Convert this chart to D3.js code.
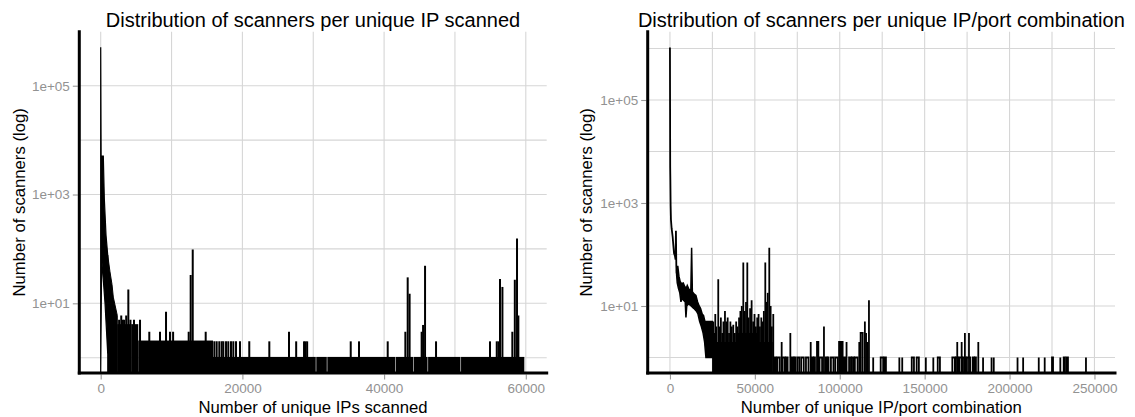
<!DOCTYPE html>
<html>
<head>
<meta charset="utf-8">
<script src="https://cdn.jsdelivr.net/npm/d3@7"></script>
<style>
  body { margin: 0; background: #fff; }
  svg { display: block; font-family: "Liberation Sans", Arial, sans-serif; }
</style>
</head>
<body>
<div class="chart"></div>
<script>
var yTicks = [1e1, 1e3, 1e5];

// left panel: scanners per unique IP scanned
var ipXTicks = [0, 20000, 40000, 60000];
var ipXMinor = [10000, 30000, 50000];
var ipYMinor = [1e0, 1e2, 1e4];
// upper edge of the steep head, then its lower edge back to x = 0
var ipHeadTop = [[0, 510000], [60, 5100], [370, 5100], [510, 850], [750, 180], [990, 77]];
var ipHeadLow = [[990, 1.2], [610, 10], [140, 67], [0, 0]];
// dense part: counts swing between 0 and this edge
var ipTail = [[990, 77], [1310, 38], [1600, 22], [1780, 13], [2020, 9.3], [2340, 6]];
var ipBands = [
  [2340, 4380, 4], [4380, 5300, 4], [5300, 15850, 2],
  [15850, 30350, 1], [30430, 31910, 1], [31990, 41600, 1], [41680, 44080, 1],
  [44160, 46130, 1], [46210, 50780, 1], [50860, 59790, 1]
];
var ipSpikes = [
  [2600, 5], [2900, 6], [3100, 5], [3300, 5], [3600, 6], [3900, 18], [4200, 5], [4700, 5],
  [5000, 3], [5550, 5], [6860, 3], [8370, 3], [9220, 7],
  [9780, 3], [10220, 3], [12420, 3], [12700, 33], [12990, 98], [14820, 3],
  [16040, 2], [16370, 2], [16740, 2], [17080, 2], [17310, 2], [17690, 2], [18010, 2],
  [18390, 2], [18720, 2], [19100, 2], [19660, 2], [20970, 2], [23800, 2], [26580, 3],
  [27590, 2], [28700, 2], [28900, 2], [29140, 2], [35290, 2], [36460, 2], [40510, 2],
  [43000, 3], [43330, 30], [43600, 15], [45300, 3], [45500, 4], [45780, 49], [47330, 2],
  [54950, 2], [55900, 2], [56150, 2], [56360, 28], [56700, 20],
  [58100, 3], [58450, 27], [58760, 156], [58950, 6]
];

// right panel: scanners per unique IP/port combination
var portXTicks = [0, 50000, 100000, 150000, 200000, 250000];
var portXMinor = [25000, 75000, 125000, 175000, 225000];
var portYMinor = [1e0, 1e2, 1e4, 1e6];
var portHead = [
  [0, 1050000], [150, 5000], [250, 2800], [400, 900], [600, 470], [1000, 320],
  [1600, 220], [2000, 150], [2400, 106], [2900, 95], [3300, 80], [3530, 290],
  [3750, 60], [3930, 43]
];
var portBandTop = [
  [3930, 50], [4600, 60], [5300, 38], [6000, 30], [6800, 27], [7850, 28], [8700, 24],
  [9600, 22], [10200, 25], [11200, 21], [12300, 20], [12770, 135], [13200, 19],
  [14300, 17], [15300, 16], [16300, 12], [17200, 10], [18000, 9], [19000, 7],
  [19800, 6.5], [20600, 5], [22000, 5], [24900, 5]
];
var portBandLow = [
  [24900, 1], [21200, 1], [20400, 2], [19500, 3], [18500, 4], [17500, 5], [16500, 7],
  [15500, 8], [14000, 9], [12500, 10], [11000, 11], [9900, 10], [9420, 6], [9000, 12],
  [8000, 13], [7000, 14], [6480, 12], [5800, 18], [5000, 22], [4300, 28], [3930, 40]
];
var portBands = [[24900, 40000, 2], [40000, 52000, 3], [52000, 60500, 2]];
var portSpikes = [
  [25500, 5], [26200, 3], [26700, 7], [27300, 4], [28450, 33], [29200, 4], [30000, 6],
  [30800, 3], [31500, 5], [32400, 8], [33200, 5], [34000, 6], [34800, 3], [35600, 5],
  [36400, 4], [37300, 4.3], [38200, 3], [39000, 5], [39800, 4], [40700, 6], [41500, 8],
  [42300, 10], [43200, 70], [44000, 8], [44800, 12], [45560, 70], [46300, 6], [47200, 9],
  [48100, 13], [49000, 5], [49800, 7], [50600, 4], [51400, 6], [52200, 7], [53000, 4],
  [53800, 6], [54600, 5], [55300, 8], [56150, 70], [56900, 12], [57600, 18], [58500, 135],
  [59300, 10], [60000, 4], [60850, 7]
];
// [from, to, count]: the line sits at count between from and to, 0 either side
var portRuns = [
  [61500, 62500, 1], [63300, 64700, 1], [65800, 65800, 2], [66300, 67600, 1],
  [68300, 69300, 1], [70900, 70900, 3], [71800, 72800, 1], [73300, 73900, 1],
  [75000, 76200, 1], [77300, 78800, 1], [80100, 81600, 1], [82900, 82900, 2],
  [83600, 84400, 1], [84900, 85400, 1], [86600, 87400, 2], [88100, 89600, 1],
  [90700, 90700, 4], [91600, 92300, 1], [92900, 93400, 1], [94800, 96300, 1],
  [97300, 98800, 1], [99600, 100500, 2], [101000, 101700, 2], [102400, 103300, 1],
  [104000, 104000, 2], [105500, 106600, 1], [107200, 108300, 1], [108900, 110500, 1],
  [111500, 111500, 2], [112300, 113500, 3], [114800, 114800, 5], [115500, 115500, 3],
  [116200, 116200, 2], [117200, 117200, 13], [119700, 119700, 1], [124100, 125600, 1],
  [126300, 127200, 1], [135100, 135100, 1], [136800, 136800, 1], [142400, 143700, 1],
  [145300, 146600, 1], [150700, 150700, 1], [155100, 155100, 1], [157700, 159000, 1],
  [166300, 167800, 1], [168400, 169800, 1], [170500, 172000, 1], [172600, 174200, 1],
  [174900, 176800, 1], [178300, 179000, 1], [179600, 180200, 1], [169200, 169200, 2],
  [171800, 171800, 2], [173700, 173700, 3], [176100, 176100, 3], [181600, 181600, 2],
  [184400, 184400, 1], [189400, 189400, 1], [190700, 190700, 1], [204700, 204700, 1],
  [208000, 208000, 1], [217200, 217200, 1], [220700, 220700, 1], [225000, 225600, 1],
  [229900, 229900, 1], [231900, 232600, 1], [233500, 234400, 1], [245000, 245000, 1]
];

var svg = d3
  .select(".chart")
  .append("svg")
  .attr("width", 1135)
  .attr("height", 417);

var xIp = d3.scaleLinear().domain([-3020, 62950]).range([79.3, 546.7]);
var yIp = d3.scaleLog().domain([Math.pow(10, -0.281), Math.pow(10, 5.993)]).range([373, 31.7]);
var xPort = d3.scaleLinear().domain([-13100, 262100]).range([647.7, 1115]);
var yPort = d3.scaleLog().domain([Math.pow(10, -0.301), Math.pow(10, 6.326)]).range([373, 31.7]);

function logLabel(v) {
  var e = Math.round(Math.log10(v));
  return "1e+" + (e < 10 ? "0" : "") + e;
}

// zero counts are drawn on the panel edge, as ggplot does with -Inf
function yOf(y, v) {
  return v > 0 ? y(v) : y.range()[0];
}

function frame(p) {
  var x = p.x, y = p.y;
  var left = x.range()[0], right = x.range()[1];
  var bottom = y.range()[0], top = y.range()[1];
  var g = svg.append("g");

  g.selectAll(".gx")
    .data(p.xTicks.concat(p.xMinor))
    .enter()
    .append("line")
    .attr("x1", d => x(d)).attr("x2", d => x(d))
    .attr("y1", top).attr("y2", bottom)
    .attr("stroke", "#d6d6d6").attr("stroke-width", 1.1);

  g.selectAll(".gy")
    .data(yTicks.concat(p.yMinor))
    .enter()
    .append("line")
    .attr("x1", left).attr("x2", right)
    .attr("y1", d => y(d)).attr("y2", d => y(d))
    .attr("stroke", "#d6d6d6").attr("stroke-width", 1.1);

  var xAxis = d3.axisBottom(x).tickValues(p.xTicks).tickFormat(d3.format("d")).tickSize(5).tickPadding(4);
  var yAxis = d3.axisLeft(y).tickValues(yTicks).tickFormat(logLabel).tickSize(p.yTick).tickPadding(3);

  g.append("g").attr("transform", `translate(0, ${bottom + 1.5})`).call(xAxis);
  g.append("g").attr("transform", `translate(${left - 1.5}, 0)`).call(yAxis);
  g.selectAll(".domain").remove();
  g.selectAll(".tick line").attr("stroke", "#999").attr("stroke-width", 1.1);
  g.selectAll(".tick text")
    .attr("fill", "#929292")
    .style("font-size", "13.5px")
    .style("font-family", "'Liberation Sans', Arial, sans-serif");

  var clipId = "clip" + p.id;
  svg.append("clipPath").attr("id", clipId)
    .append("rect")
    .attr("x", left).attr("y", top)
    .attr("width", right - left).attr("height", bottom - top);
  var marks = svg.append("g").attr("clip-path", `url(#${clipId})`);

  svg.append("line")
    .attr("x1", left).attr("x2", left).attr("y1", top).attr("y2", bottom)
    .attr("stroke", "#000").attr("stroke-width", 3).attr("stroke-linecap", "square");
  svg.append("line")
    .attr("x1", left).attr("x2", right).attr("y1", bottom).attr("y2", bottom)
    .attr("stroke", "#000").attr("stroke-width", 3).attr("stroke-linecap", "square");

  svg.append("text")
    .attr("x", (left + right) / 2).attr("y", 26.5)
    .attr("text-anchor", "middle")
    .style("font-size", "20px")
    .text(p.title);
  svg.append("text")
    .attr("x", (left + right) / 2).attr("y", 412.7)
    .attr("text-anchor", "middle")
    .style("font-size", "16.7px")
    .text(p.xTitle);
  svg.append("text")
    .attr("transform", `translate(${p.yTitleX}, ${(top + bottom) / 2}) rotate(-90)`)
    .attr("text-anchor", "middle")
    .style("font-size", "16.7px")
    .text("Number of scanners (log)");

  return marks;
}

// ---- left panel ----
var ipMarks = frame({
  id: "ip", x: xIp, y: yIp, xTicks: ipXTicks, xMinor: ipXMinor, yMinor: ipYMinor, yTick: 5,
  title: "Distribution of scanners per unique IP scanned",
  xTitle: "Number of unique IPs scanned", yTitleX: 25
});

var ipLine = d3.line().x(d => xIp(d[0])).y(d => yOf(yIp, d[1]));

ipMarks.append("path")
  .attr("d", ipLine(ipHeadTop.concat(ipHeadLow)) + "Z")
  .attr("fill", "#000").attr("stroke", "#000").attr("stroke-width", 1.2);

ipMarks.append("path")
  .attr("d", d3.area().x(d => xIp(d[0])).y0(yIp.range()[0]).y1(d => yIp(d[1]))(ipTail))
  .attr("fill", "#000").attr("stroke", "#000").attr("stroke-width", 1);

ipMarks.selectAll(".band")
  .data(ipBands)
  .enter()
  .append("rect")
  .attr("x", d => xIp(d[0]))
  .attr("width", d => xIp(d[1]) - xIp(d[0]))
  .attr("y", d => yIp(d[2]) - 0.8)
  .attr("height", d => yIp.range()[0] - yIp(d[2]) + 0.8)
  .attr("fill", "#000");

ipMarks.selectAll(".spike")
  .data(ipSpikes)
  .enter()
  .append("line")
  .attr("x1", d => xIp(d[0])).attr("x2", d => xIp(d[0]))
  .attr("y1", yIp.range()[0]).attr("y2", d => yIp(d[1]))
  .attr("stroke", "#000").attr("stroke-width", 2);

// ---- right panel ----
var portMarks = frame({
  id: "port", x: xPort, y: yPort, xTicks: portXTicks, xMinor: portXMinor, yMinor: portYMinor, yTick: 5,
  title: "Distribution of scanners per unique IP/port combination",
  xTitle: "Number of unique IP/port combination", yTitleX: 592
});

var portLine = d3.line().x(d => xPort(d[0])).y(d => yOf(yPort, d[1]));

portMarks.append("path")
  .attr("d", portLine(portHead))
  .attr("fill", "none").attr("stroke", "#000").attr("stroke-width", 1.8);

portMarks.append("path")
  .attr("d", portLine(portBandTop.concat(portBandLow)) + "Z")
  .attr("fill", "#000").attr("stroke", "#000").attr("stroke-width", 1.5);

portMarks.selectAll(".band")
  .data(portBands)
  .enter()
  .append("rect")
  .attr("x", d => xPort(d[0]))
  .attr("width", d => xPort(d[1]) - xPort(d[0]))
  .attr("y", d => yPort(d[2]))
  .attr("height", d => yPort.range()[0] - yPort(d[2]))
  .attr("fill", "#000");

portMarks.selectAll(".spike")
  .data(portSpikes)
  .enter()
  .append("line")
  .attr("x1", d => xPort(d[0])).attr("x2", d => xPort(d[0]))
  .attr("y1", yPort.range()[0]).attr("y2", d => yPort(d[1]))
  .attr("stroke", "#000").attr("stroke-width", 1.8);

portMarks.selectAll(".run")
  .data(portRuns)
  .enter()
  .append("path")
  .attr("d", d => portLine([[d[0], 0], [d[0], d[2]], [d[1], d[2]], [d[1], 0]]))
  .attr("fill", "none").attr("stroke", "#000").attr("stroke-width", 1.8);
</script>
</body>
</html>
